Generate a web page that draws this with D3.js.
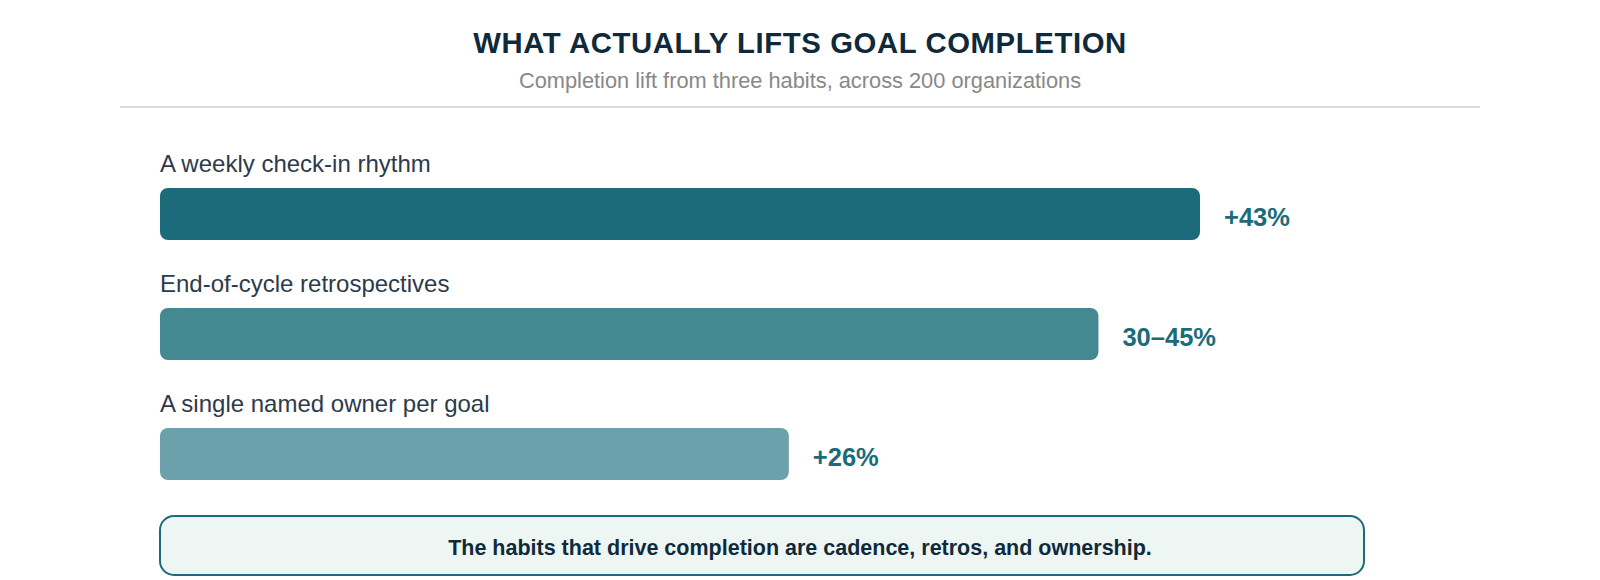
<!DOCTYPE html>
<html>
<head>
<meta charset="utf-8">
<script src="https://cdn.jsdelivr.net/npm/d3@7"></script>
<style>
  body { margin: 0; background: #fff; }
  svg { display: block; font-family: "Liberation Sans", Arial, sans-serif; }
</style>
</head>
<body>
<div id="chart"></div>
<script>
// chart data
const habits = ['A weekly check-in rhythm', 'End-of-cycle retrospectives', 'A single named owner per goal'];
const lifts = [43, 38.8, 26];
const liftLabels = ['+43%', '30\u201345%', '+26%'];
const barColors = ['#1b6b7b', '#448892', '#6ca0aa'];
const title = 'WHAT ACTUALLY LIFTS GOAL COMPLETION';
const subtitle = 'Completion lift from three habits, across 200 organizations';
const takeaway = 'The habits that drive completion are cadence, retros, and ownership.';

const width = 1600, height = 580;
const svg = d3.select('#chart').append('svg').attr('width', width).attr('height', height);

// header
svg.append('text')
  .attr('x', width / 2).attr('y', 53)
  .attr('text-anchor', 'middle')
  .attr('font-size', 29.3).attr('font-weight', 700)
  .attr('letter-spacing', 0.6)
  .attr('fill', '#0f2a3a')
  .text(title);
svg.append('text')
  .attr('x', width / 2).attr('y', 88)
  .attr('text-anchor', 'middle')
  .attr('font-size', 21.8)
  .attr('fill', '#888')
  .text(subtitle);
svg.append('line')
  .attr('x1', 120).attr('x2', 1480).attr('y1', 107).attr('y2', 107)
  .attr('stroke', '#dddddd').attr('stroke-width', 2);

// scales
const x = d3.scaleLinear().domain([0, 43]).range([0, 1040]);
const y = d3.scaleBand().domain(habits).range([160, 520]).paddingInner(0).paddingOuter(0);
const barH = 52;
const left = 160;

const rows = svg.append('g')
  .selectAll('g')
  .data(habits)
  .join('g')
  .attr('transform', d => `translate(${left},${y(d)})`);

rows.append('text')
  .attr('x', 0).attr('y', 12)
  .attr('font-size', 24)
  .attr('fill', '#2d3a4a')
  .text(d => d);

rows.append('rect')
  .attr('x', 0).attr('y', 28)
  .attr('width', (d, i) => x(lifts[i]))
  .attr('height', barH)
  .attr('rx', 8)
  .attr('fill', (d, i) => barColors[i]);

rows.append('text')
  .attr('x', (d, i) => x(lifts[i]) + 24)
  .attr('y', 28 + barH / 2 + 12)
  .attr('font-size', 25.5).attr('font-weight', 700)
  .attr('fill', '#1b6b7b')
  .text((d, i) => liftLabels[i]);

// takeaway box
svg.append('rect')
  .attr('x', 160).attr('y', 516)
  .attr('width', 1204).attr('height', 59)
  .attr('rx', 14)
  .attr('fill', '#eef6f3')
  .attr('stroke', '#1b6b7b').attr('stroke-width', 2);
svg.append('text')
  .attr('x', width / 2).attr('y', 555)
  .attr('text-anchor', 'middle')
  .attr('font-size', 21.5).attr('font-weight', 700)
  .attr('fill', '#0f2a3a')
  .text(takeaway);
</script>
</body>
</html>
